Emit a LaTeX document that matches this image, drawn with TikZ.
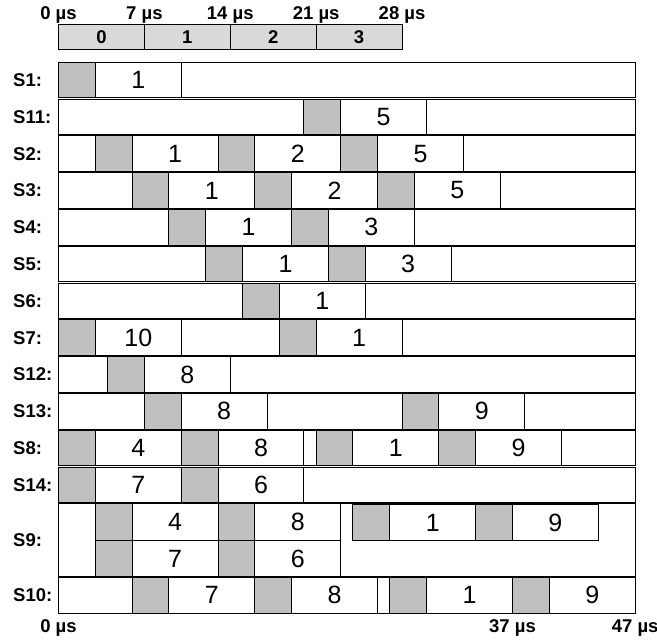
\documentclass[tikz,border=0pt]{standalone}
\usepackage{fontspec}
\setmainfont{Liberation Sans}
\newcounter{bxc}
\tikzset{
  grayblk/.style={draw=black, fill=boxgray, line width=1pt},
  whiteblk/.style={draw=black, fill=white, line width=1pt},
  rowbg/.style={draw=black, fill=white, line width=1pt},
  hdrblk/.style={draw=black, fill=hdrgray, line width=1pt},
  num/.style={inner sep=0pt, font=\fontsize{25}{27}\selectfont},
  hdrnum/.style={inner sep=0pt, font=\fontsize{18.5}{20}\selectfont\bfseries},
  rowlab/.style={anchor=west, inner sep=0pt, font=\fontsize{18.5}{20}\selectfont\bfseries},
  tick/.style={anchor=base, inner sep=0pt, font=\fontsize{18.5}{20}\selectfont\bfseries}
}
\definecolor{boxgray}{HTML}{C0C0C0}
\definecolor{hdrgray}{HTML}{D9D9D9}
% #1 height (opt), #2 top y, #3 start time
\newcommand\gbx[3][35.5]{\draw[grayblk] (#3,#2) rectangle ++(3,#1);}
% #1 height (opt), #2 top y, #3 start, #4 end, #5 label
\newcommand\wbx[5][35.5]{\draw[whiteblk] (#3,#2) rectangle (#4,#2+#1);
  \stepcounter{bxc}\node[num] (b\arabic{bxc}) at ({(#3+#4)/2},#2+#1/2) {#5};}
% #1 height (opt), #2 top y
\newcommand\rbg[2][35.5]{\draw[rowbg] (0,#2) rectangle (47,#2+#1);}
\newcommand\rlab[3][35.5]{\node[rowlab] (#3) at (13,#2+#1/2) {#3:};}
\begin{document}
\begin{tikzpicture}[x=1pt,y=-1pt]
\useasboundingbox (0,0) rectangle (657,642);
% row labels
\rlab{62.3}{S1}
\rlab{99.1}{S11}
\rlab{135.9}{S2}
\rlab{172.7}{S3}
\rlab{209.5}{S4}
\rlab{246.3}{S5}
\rlab{283.1}{S6}
\rlab{319.9}{S7}
\rlab{356.7}{S12}
\rlab{393.5}{S13}
\rlab{430.3}{S8}
\rlab{467.1}{S14}
\rlab[72.8]{503.9}{S9}
\rlab{577.5}{S10}
\begin{scope}[shift={(58.5,0)}, x=12.27pt]
% header
\foreach \i/\t in {0/0,1/7,2/14,3/21}{
  \draw[hdrblk] (\t,25) rectangle ++(7,24.3);
  \node[hdrnum] (h\i) at (\t+3.5,37.2) {\i};
}
\foreach \t in {0,7,14,21,28}{
  \node[tick] (top\t) at (\t,19.5) {\t\ µs};
}
% S1
\rbg{62.3}\gbx{62.3}{0}\wbx{62.3}{3}{10}{1}
% S11
\rbg{99.1}\gbx{99.1}{20}\wbx{99.1}{23}{30}{5}
% S2
\rbg{135.9}\gbx{135.9}{3}\wbx{135.9}{6}{13}{1}\gbx{135.9}{13}\wbx{135.9}{16}{23}{2}\gbx{135.9}{23}\wbx{135.9}{26}{33}{5}
% S3
\rbg{172.7}\gbx{172.7}{6}\wbx{172.7}{9}{16}{1}\gbx{172.7}{16}\wbx{172.7}{19}{26}{2}\gbx{172.7}{26}\wbx{172.7}{29}{36}{5}
% S4
\rbg{209.5}\gbx{209.5}{9}\wbx{209.5}{12}{19}{1}\gbx{209.5}{19}\wbx{209.5}{22}{29}{3}
% S5
\rbg{246.3}\gbx{246.3}{12}\wbx{246.3}{15}{22}{1}\gbx{246.3}{22}\wbx{246.3}{25}{32}{3}
% S6
\rbg{283.1}\gbx{283.1}{15}\wbx{283.1}{18}{25}{1}
% S7
\rbg{319.9}\gbx{319.9}{0}\wbx{319.9}{3}{10}{10}\gbx{319.9}{18}\wbx{319.9}{21}{28}{1}
% S12
\rbg{356.7}\gbx{356.7}{4}\wbx{356.7}{7}{14}{8}
% S13
\rbg{393.5}\gbx{393.5}{7}\wbx{393.5}{10}{17}{8}\gbx{393.5}{28}\wbx{393.5}{31}{38}{9}
% S8
\rbg{430.3}\gbx{430.3}{0}\wbx{430.3}{3}{10}{4}\gbx{430.3}{10}\wbx{430.3}{13}{20}{8}\gbx{430.3}{21}\wbx{430.3}{24}{31}{1}\gbx{430.3}{31}\wbx{430.3}{34}{41}{9}
% S14
\rbg{467.1}\gbx{467.1}{0}\wbx{467.1}{3}{10}{7}\gbx{467.1}{10}\wbx{467.1}{13}{20}{6}
% S9
\rbg[72.8]{503.9}
\gbx[36.4]{503.9}{3}\wbx[36.4]{503.9}{6}{13}{4}\gbx[36.4]{503.9}{13}\wbx[36.4]{503.9}{16}{23}{8}
\gbx[36.4]{540.3}{3}\wbx[36.4]{540.3}{6}{13}{7}\gbx[36.4]{540.3}{13}\wbx[36.4]{540.3}{16}{23}{6}
\gbx[35.8]{504.5}{24}\wbx[35.8]{504.5}{27}{34}{1}\gbx[35.8]{504.5}{34}\wbx[35.8]{504.5}{37}{44}{9}
% S10
\rbg{577.5}\gbx{577.5}{6}\wbx{577.5}{9}{16}{7}\gbx{577.5}{16}\wbx{577.5}{19}{26}{8}\gbx{577.5}{27}\wbx{577.5}{30}{37}{1}\gbx{577.5}{37}\wbx{577.5}{40}{47}{9}
% bottom ticks
\foreach \t in {0,37,47}{
  \node[tick] (bot\t) at (\t,632) {\t\ µs};
}
\end{scope}
\end{tikzpicture}
\end{document}
